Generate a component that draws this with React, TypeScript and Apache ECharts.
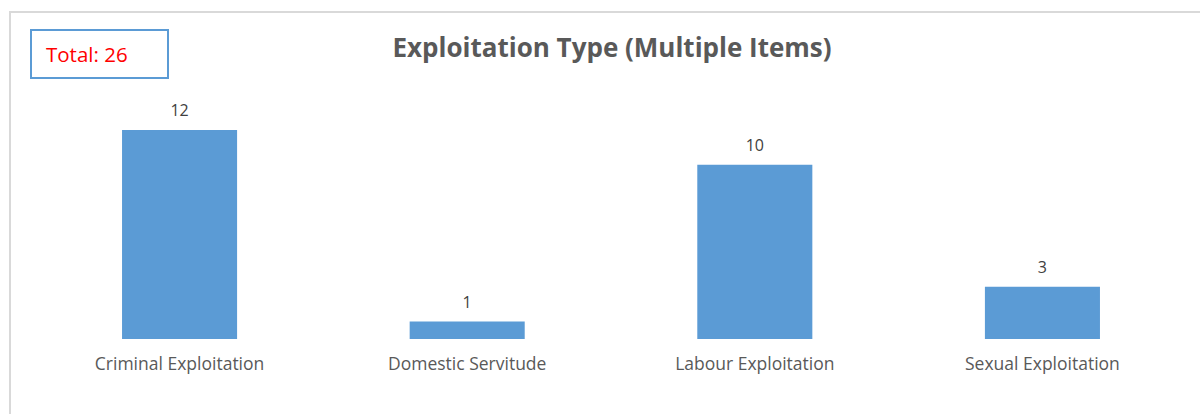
import React, { useEffect, useRef } from "react";
import * as echarts from "echarts";

const categories = ["Criminal Exploitation", "Domestic Servitude", "Labour Exploitation", "Sexual Exploitation"];
const counts = [12, 1, 10, 3];
const totalLabel = "Total: 26";
const titleText = "Exploitation Type (Multiple Items)";

export default function App() {
  const ref = useRef<HTMLDivElement>(null);
  useEffect(() => {
    if (!ref.current) return;
    const chart = echarts.init(ref.current, null, { renderer: "svg" });
    const font = "Open Sans, Noto Sans, sans-serif";
    chart.setOption({
      animation: false,
      backgroundColor: "#ffffff",
      title: {
        text: titleText,
        left: 607,
        textAlign: "center",
        top: 29,
        textStyle: { fontFamily: font, fontSize: 26, fontWeight: "bold", color: "#595959" },
      },
      graphic: [
        {
          type: "rect",
          shape: { x: 10, y: 12, width: 1200, height: 420 },
          style: { fill: "none", stroke: "#d9d9d9", lineWidth: 2 },
          silent: true,
        },
        {
          type: "rect",
          shape: { x: 31, y: 30, width: 137, height: 48 },
          style: { fill: "#ffffff", stroke: "#5b9bd5", lineWidth: 2 },
        },
        {
          type: "text",
          x: 46,
          y: 54,
          style: {
            text: totalLabel,
            fill: "#ff0000",
            fontSize: 20.5,
            fontFamily: font,
            verticalAlign: "middle",
            align: "left",
          },
        },
      ],
      grid: { left: 35.75, right: 13.75, top: 130, bottom: 75, containLabel: false },
      xAxis: {
        type: "category",
        data: categories,
        axisLine: { show: false },
        axisTick: { show: false },
        axisLabel: { color: "#595959", fontSize: 17.5, fontFamily: font, margin: 15 },
      },
      yAxis: {
        type: "value",
        min: 0,
        max: 12,
        show: false,
        splitLine: { show: false },
      },
      series: [
        {
          type: "bar",
          data: counts,
          barWidth: "40%",
          itemStyle: { color: "#5b9bd5" },
          label: {
            show: true,
            position: "top",
            distance: 12,
            color: "#404040",
            fontSize: 16,
            fontFamily: font,
          },
        },
      ],
    });
    return () => chart.dispose();
  }, []);
  return (
    <div
      ref={ref}
      style={{ position: "fixed", left: 0, top: 0, width: 1200, height: 414 }}
    />
  );
}
